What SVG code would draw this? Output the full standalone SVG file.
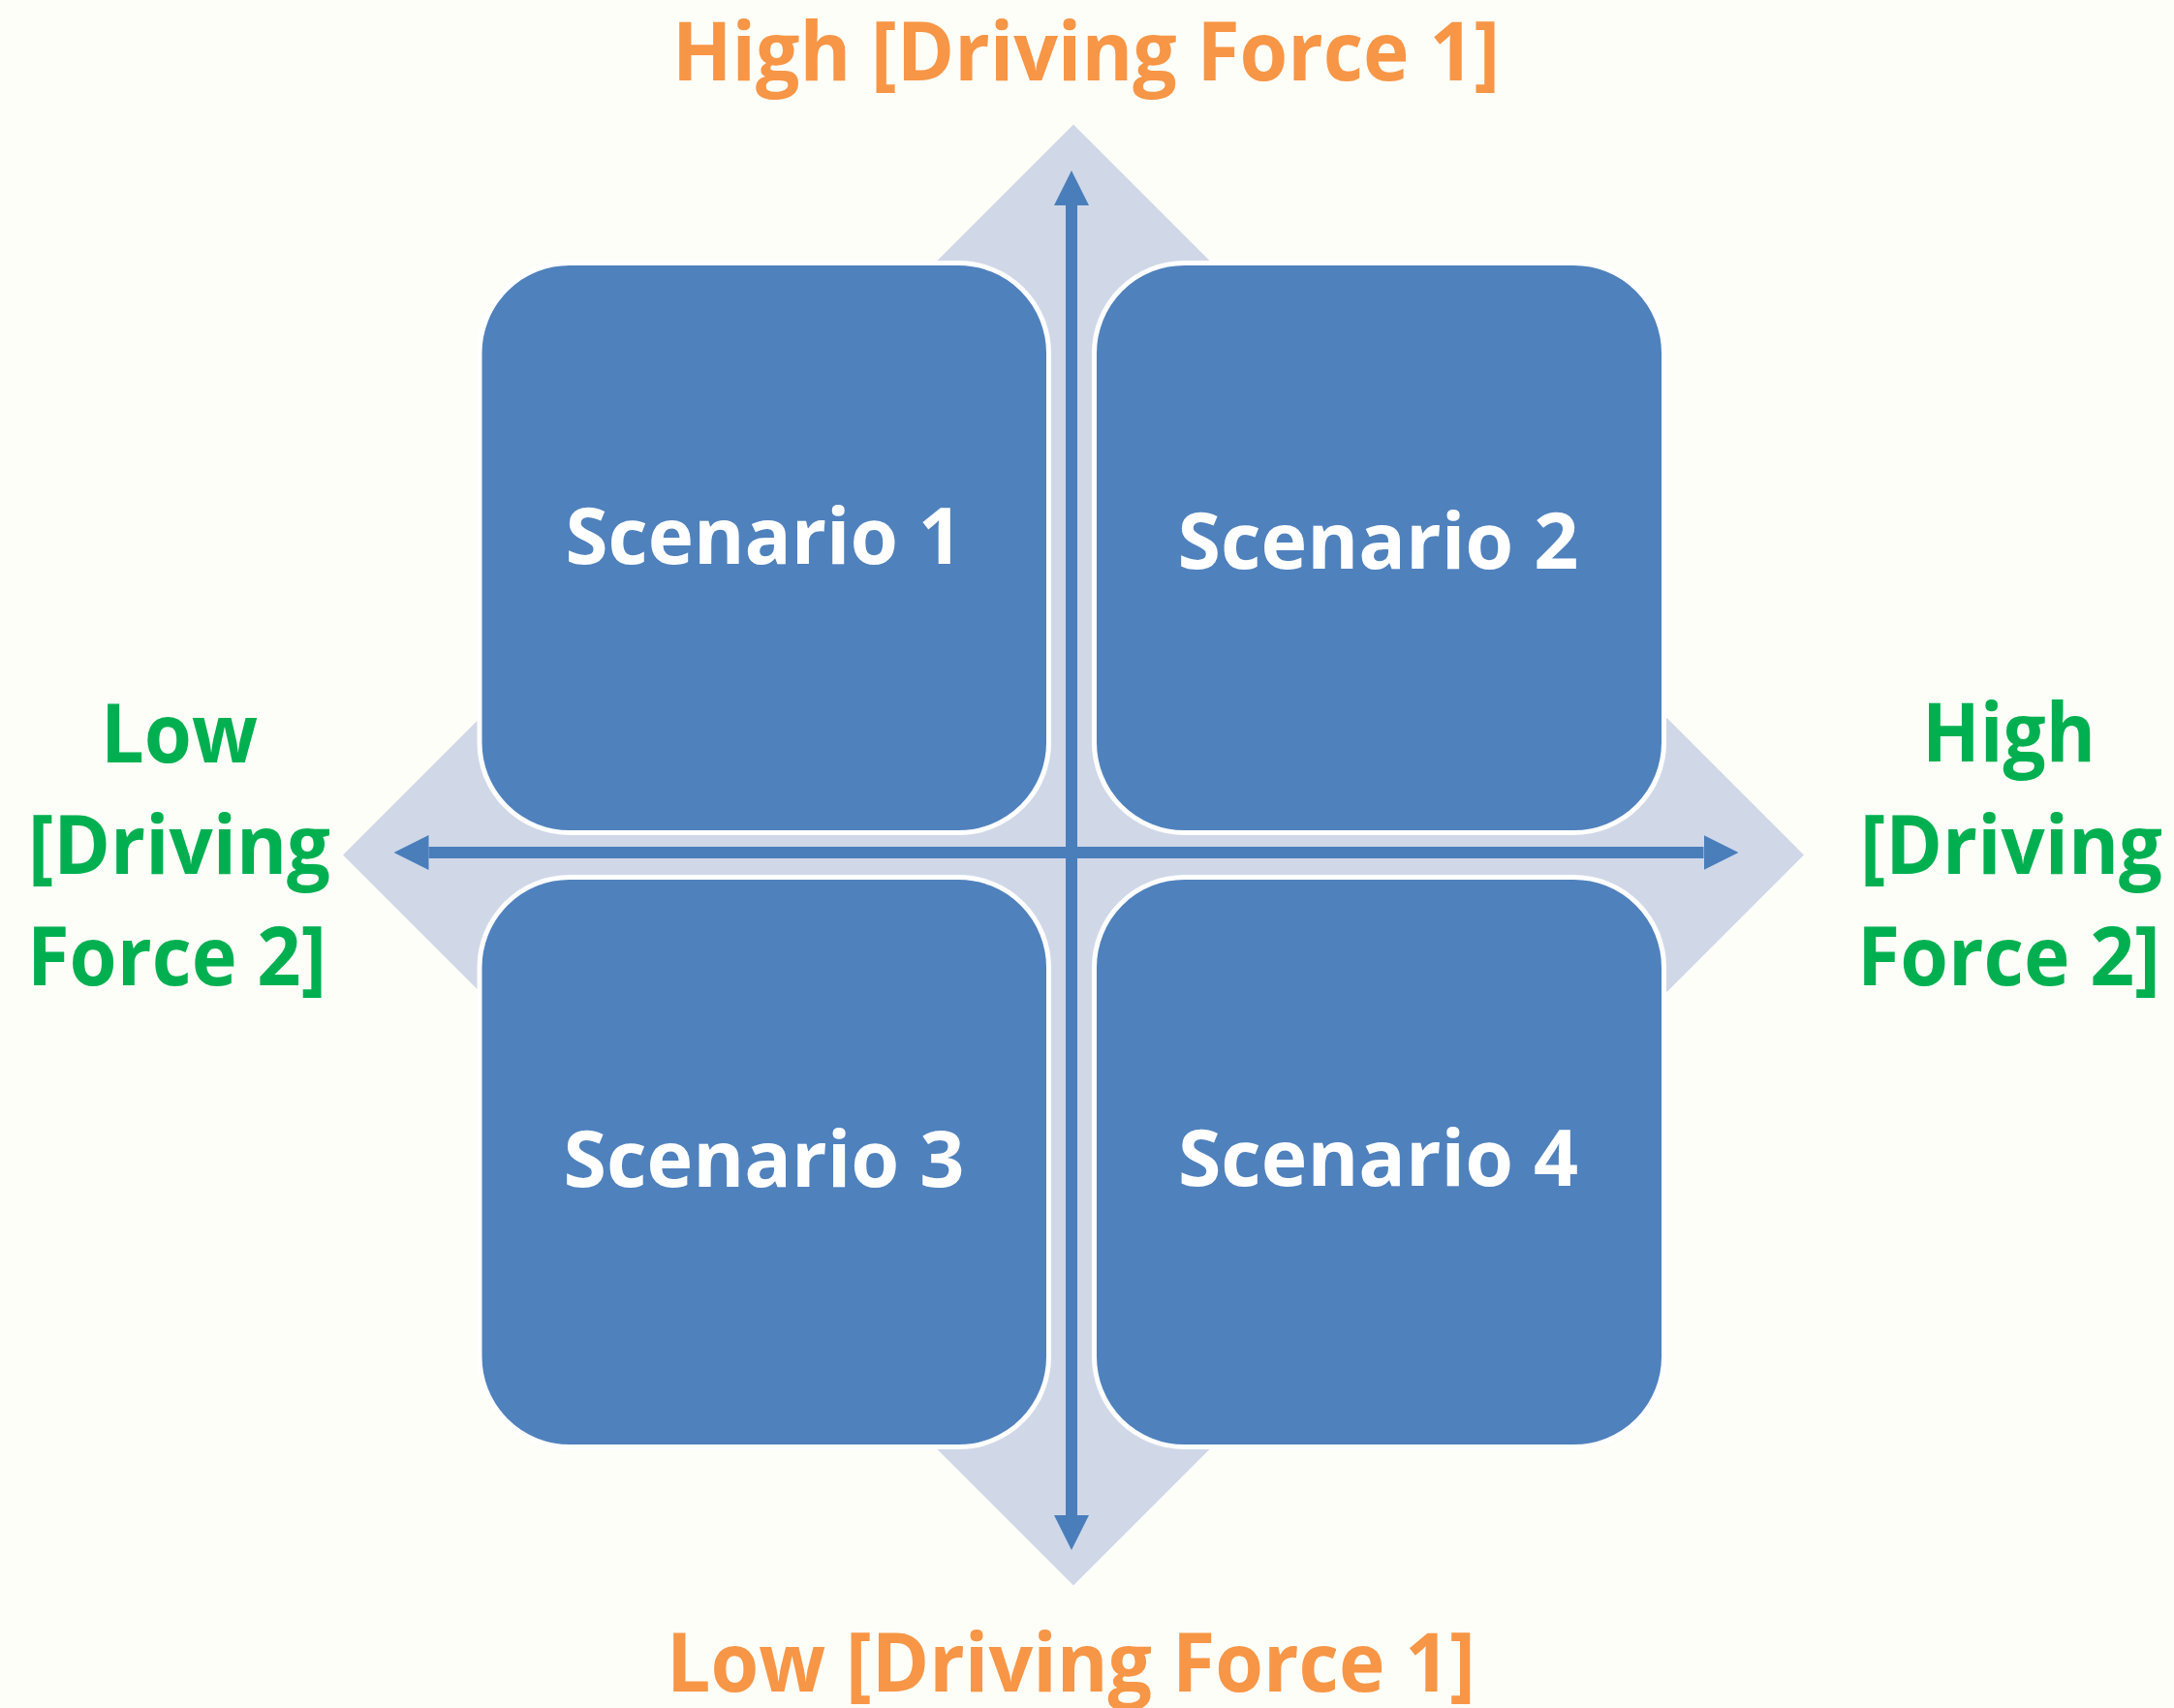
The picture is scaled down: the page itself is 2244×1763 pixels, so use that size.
<svg xmlns="http://www.w3.org/2000/svg" width="2244" height="1763" viewBox="0 0 2244 1763">
<style>
.bg{fill:#FEFEF9}
.band{fill:#D0D8E8}
.box{fill:#4F81BD;stroke:#FFFFFF;stroke-width:5}
.axis{stroke:#4A7EBB;stroke-width:12;fill:none}
.lbl{font-family:"Open Sans","Noto Sans","Liberation Sans",sans-serif;font-weight:700;text-anchor:middle}
.scn{fill:#FFFFFF;font-size:80px}
.f1{fill:#F79646;font-size:84px}
.f2{fill:#00B050;font-size:84px}
</style>
<defs>
<marker id="head" markerUnits="userSpaceOnUse" viewBox="0 0 36 36" markerWidth="36" markerHeight="36" refX="0" refY="18" orient="auto-start-reverse">
<path d="M0,0 L36,18 L0,36 Z" fill="#4A7EBB"/>
</marker>
</defs>
<rect class="bg" x="0" y="0" width="2244" height="1763"/>
<g id="background-cross">
<path class="band" d="M1108,128.5 L1249,269.5 L1249,741.5 L1721,741.5 L1862,882.5 L1721,1023.5 L1249,1023.5 L1249,1495.5 L1108,1636.5 L967,1495.5 L967,1023.5 L495,1023.5 L354,882.5 L495,741.5 L967,741.5 L967,269.5 Z"/>
</g>
<g id="scenario1">
<rect class="box" x="495" y="271.5" width="587.5" height="588" rx="93" ry="93"/>
<text class="lbl scn" x="788.5" y="582" textLength="410" lengthAdjust="spacingAndGlyphs">Scenario 1</text>
</g>
<g id="scenario2">
<rect class="box" x="1129.5" y="271.5" width="588" height="588" rx="93" ry="93"/>
<text class="lbl scn" x="1422.5" y="587" textLength="414" lengthAdjust="spacingAndGlyphs">Scenario 2</text>
</g>
<g id="scenario3">
<rect class="box" x="495" y="905.5" width="587.5" height="588" rx="93" ry="93"/>
<text class="lbl scn" x="788.5" y="1225" textLength="414" lengthAdjust="spacingAndGlyphs">Scenario 3</text>
</g>
<g id="scenario4">
<rect class="box" x="1129.5" y="905.5" width="588" height="588" rx="93" ry="93"/>
<text class="lbl scn" x="1422.5" y="1224" textLength="413" lengthAdjust="spacingAndGlyphs">Scenario 4</text>
</g>
<g id="connectors">
<line class="axis" x1="1106" y1="212" x2="1106" y2="1564" marker-start="url(#head)" marker-end="url(#head)"/>
<line class="axis" x1="442.5" y1="880" x2="1758.5" y2="880" marker-start="url(#head)" marker-end="url(#head)"/>
</g>
<g id="label-top">
<text class="lbl f1" x="1121" y="83" textLength="854" lengthAdjust="spacingAndGlyphs">High [Driving Force 1]</text>
</g>
<g id="label-bottom">
<text class="lbl f1" x="1105.5" y="1746" textLength="835" lengthAdjust="spacingAndGlyphs">Low [Driving Force 1]</text>
</g>
<g id="label-left">
<text class="lbl f2" x="185" y="787" textLength="162" lengthAdjust="spacingAndGlyphs">Low</text>
<text class="lbl f2" x="185" y="902" textLength="312" lengthAdjust="spacingAndGlyphs">[Driving</text>
<text class="lbl f2" x="182.5" y="1017" textLength="309" lengthAdjust="spacingAndGlyphs">Force 2]</text>
</g>
<g id="label-right">
<text class="lbl f2" x="2073.5" y="786" textLength="179" lengthAdjust="spacingAndGlyphs">High</text>
<text class="lbl f2" x="2076" y="902" textLength="312" lengthAdjust="spacingAndGlyphs">[Driving</text>
<text class="lbl f2" x="2073.5" y="1017" textLength="313" lengthAdjust="spacingAndGlyphs">Force 2]</text>
</g>
</svg>
